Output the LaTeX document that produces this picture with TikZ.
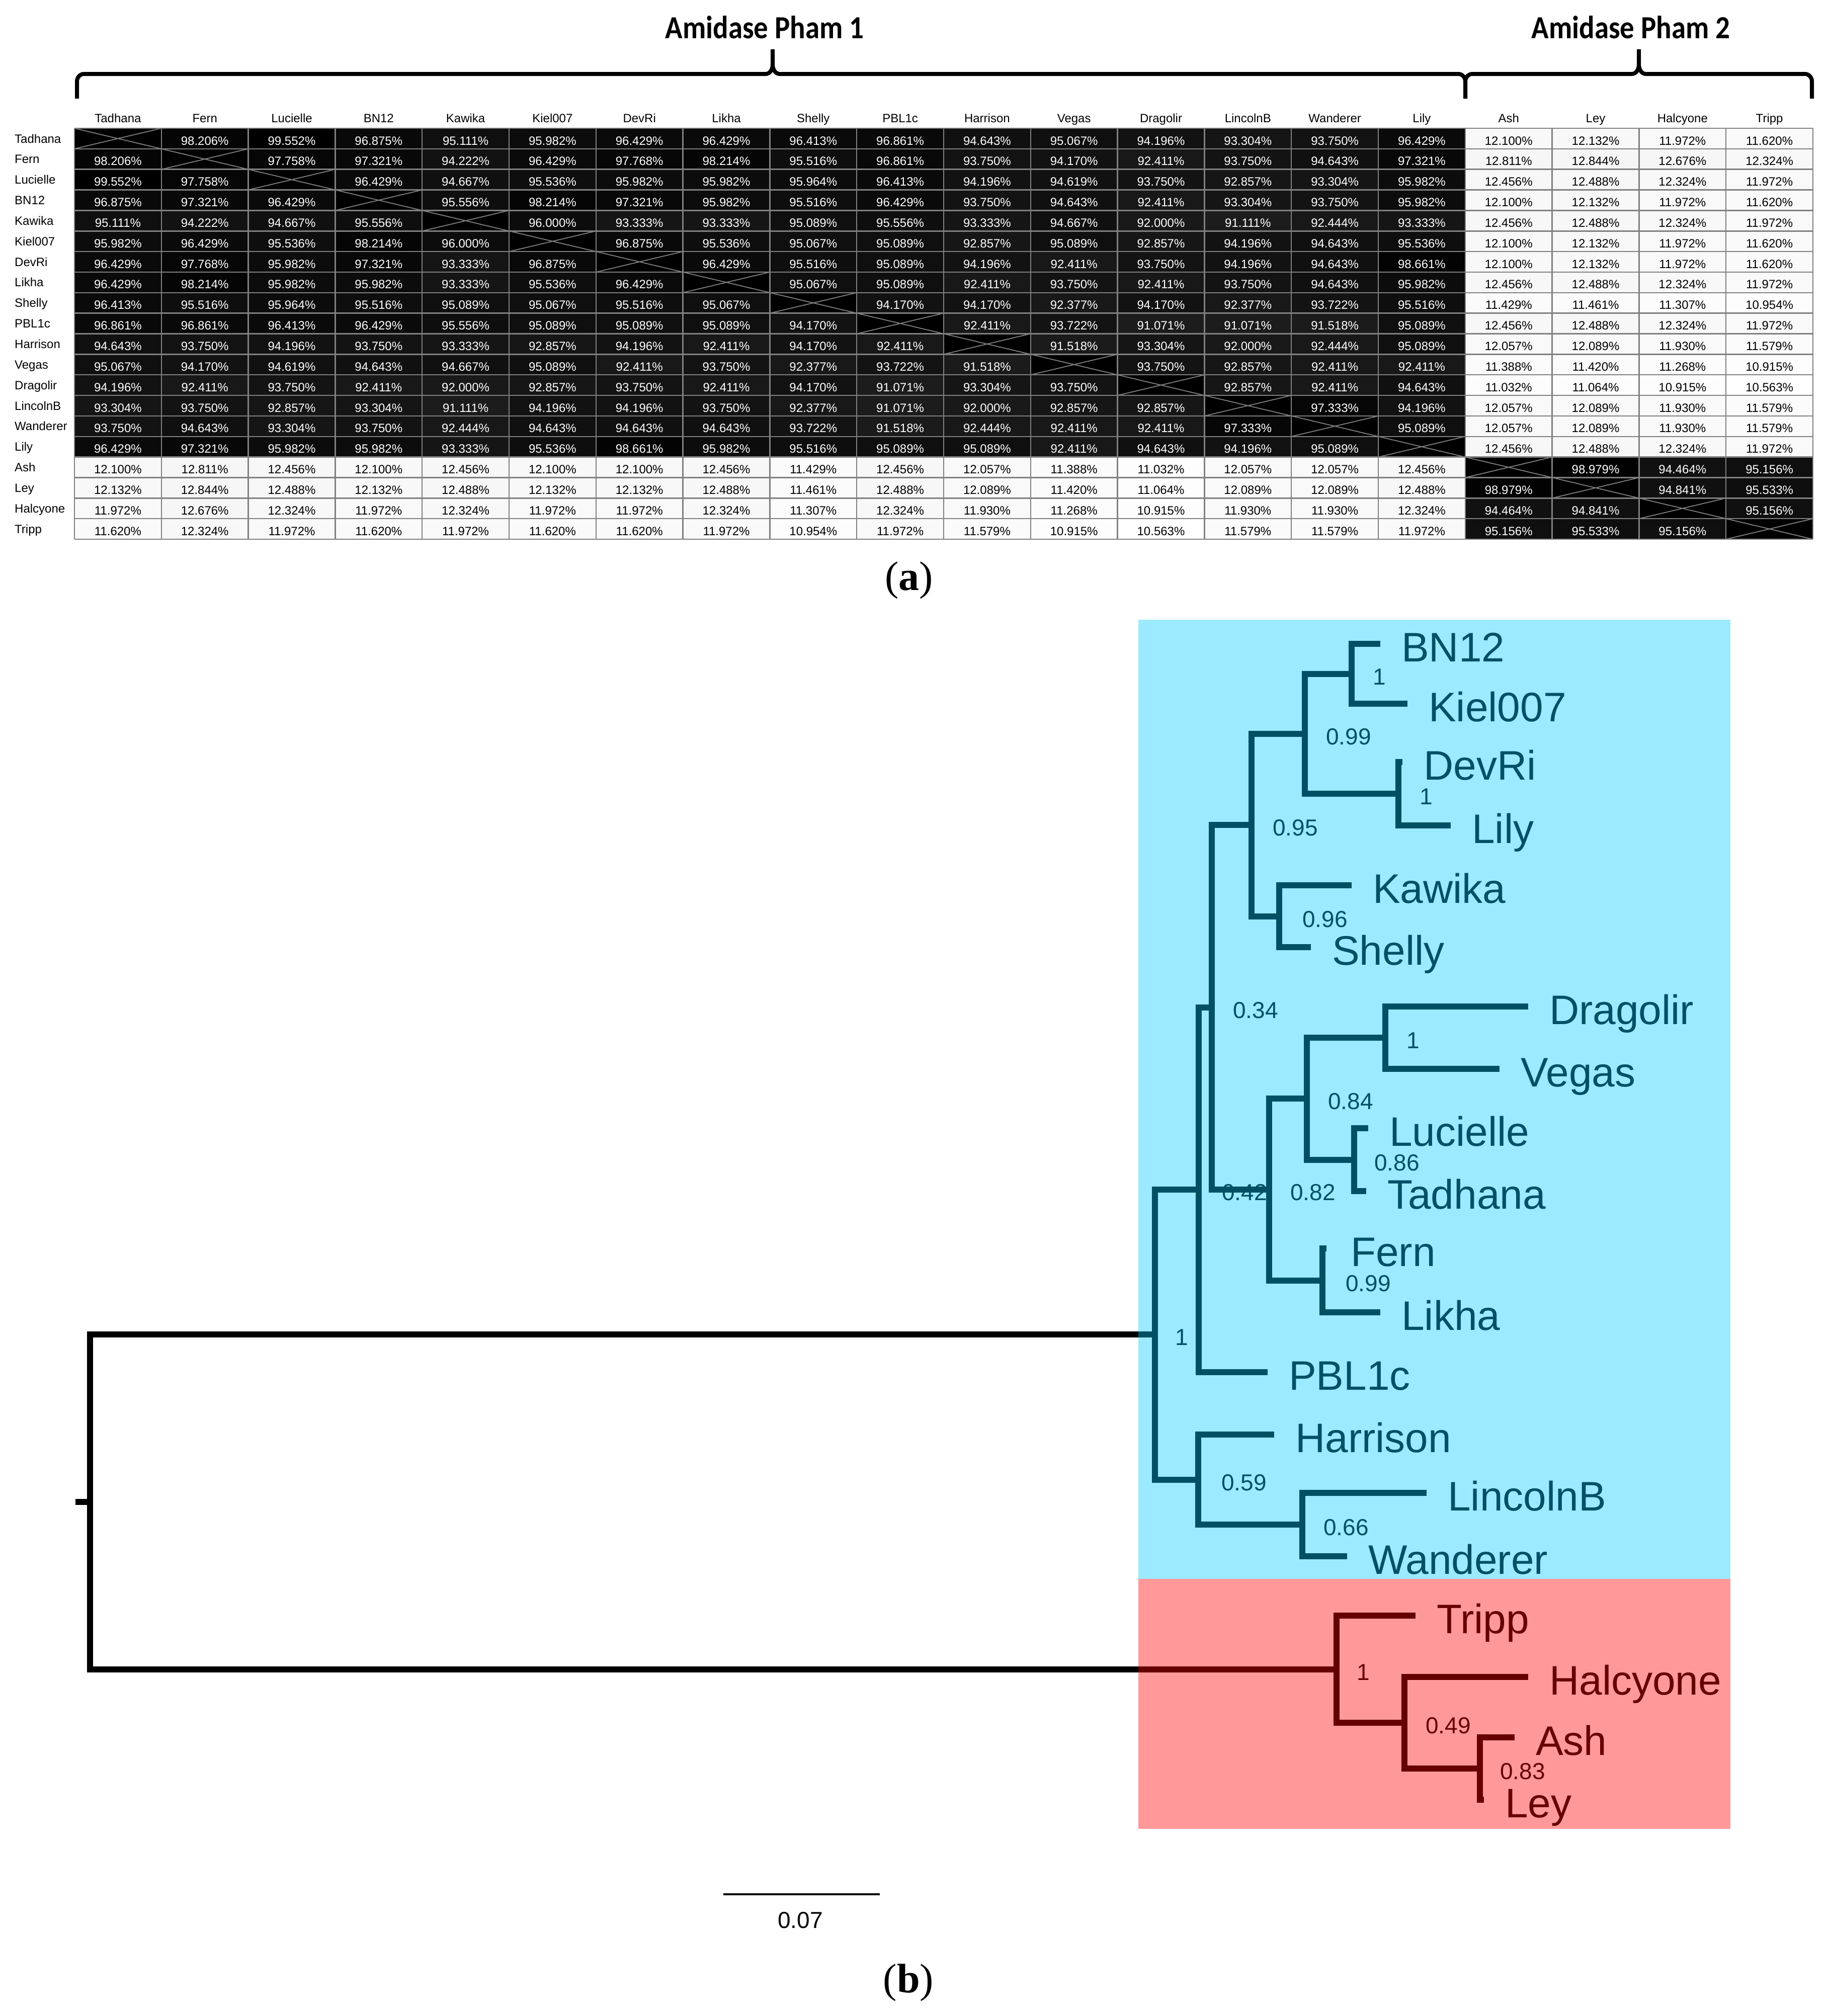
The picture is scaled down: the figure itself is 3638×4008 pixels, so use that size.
\documentclass[tikz,border=0pt]{standalone}
\usepackage{fontspec}
\usepackage{graphicx}
\setmainfont{Liberation Sans}
\newfontfamily\serifcap{Liberation Serif}
\newfontfamily\hdrfont{Carlito}
\newcommand{\fsz}[1]{\fontsize{#1}{#1}\selectfont}
\definecolor{cladeA}{RGB}{0,80,100}
\definecolor{cladeB}{RGB}{102,0,0}
\definecolor{bgA}{RGB}{155,234,255}
\definecolor{bgB}{RGB}{255,153,153}
\definecolor{gridc}{RGB}{128,128,128}
\begin{document}
\begin{tikzpicture}[x=1pt,y=-1pt,
  cell/.style={anchor=base,inner sep=0pt,font=\fsz{24}},
  hdr/.style={anchor=base,inner sep=0pt,font=\fsz{24}},
  rowlab/.style={anchor=base west,inner sep=0pt,font=\fsz{24}},
  gridline/.style={draw=gridc,line width=2.5pt},
  xline/.style={draw=gridc,line width=1.8pt},
  bracestyle/.style={line width=8pt,line cap=butt,line join=round},
  pham/.style={anchor=base,inner sep=0pt,font=\hdrfont\bfseries\fsz{64}},
  caption/.style={anchor=base,inner sep=0pt,font=\serifcap\fsz{82}},
  brA/.style={draw=cladeA,line width=12pt,line cap=butt,line join=miter},
  brB/.style={draw=cladeB,line width=12pt,line cap=butt,line join=miter},
  brR/.style={draw=black,line width=12pt,line cap=butt,line join=miter},
  leafA/.style={anchor=base west,inner sep=0pt,font=\fsz{82},text=cladeA},
  leafB/.style={anchor=base west,inner sep=0pt,font=\fsz{82},text=cladeB},
  bsA/.style={anchor=west,inner sep=0pt,font=\fsz{46},text=cladeA},
  bsB/.style={anchor=west,inner sep=0pt,font=\fsz{46},text=cladeB}]
\fill[white] (0,0) rectangle (3638,4008);
\useasboundingbox (0,0) rectangle (3638,4008);

% ---------- braces and titles ----------
\draw[bracestyle] (153,196) -- (153,162) to[out=90,in=180] (167,147) -- (1522,147) to[out=0,in=-90] (1536,128) -- (1536,98);
\draw[bracestyle] (1536,128) to[out=-90,in=180] (1550,147) -- (2899,147) to[out=0,in=90] (2913,162) -- (2913,196);
\draw[bracestyle] (2913,196) -- (2913,162) to[out=90,in=180] (2927,147) -- (3244,147) to[out=0,in=-90] (3258,128) -- (3258,98);
\draw[bracestyle] (3258,128) to[out=-90,in=180] (3272,147) -- (3588,147) to[out=0,in=90] (3602,162) -- (3602,196);
\node[pham] (pham1) at (1520,76) {\scalebox{0.89}[1]{Amidase Pham 1}};
\node[pham] (pham2) at (3242,76) {\scalebox{0.89}[1]{Amidase Pham 2}};

% ---------- table ----------
\foreach \v [count=\i from 0] in {
0,98.206,99.552,96.875,95.111,95.982,96.429,96.429,96.413,96.861,94.643,95.067,94.196,93.304,93.750,96.429,12.100,12.132,11.972,11.620,
98.206,0,97.758,97.321,94.222,96.429,97.768,98.214,95.516,96.861,93.750,94.170,92.411,93.750,94.643,97.321,12.811,12.844,12.676,12.324,
99.552,97.758,0,96.429,94.667,95.536,95.982,95.982,95.964,96.413,94.196,94.619,93.750,92.857,93.304,95.982,12.456,12.488,12.324,11.972,
96.875,97.321,96.429,0,95.556,98.214,97.321,95.982,95.516,96.429,93.750,94.643,92.411,93.304,93.750,95.982,12.100,12.132,11.972,11.620,
95.111,94.222,94.667,95.556,0,96.000,93.333,93.333,95.089,95.556,93.333,94.667,92.000,91.111,92.444,93.333,12.456,12.488,12.324,11.972,
95.982,96.429,95.536,98.214,96.000,0,96.875,95.536,95.067,95.089,92.857,95.089,92.857,94.196,94.643,95.536,12.100,12.132,11.972,11.620,
96.429,97.768,95.982,97.321,93.333,96.875,0,96.429,95.516,95.089,94.196,92.411,93.750,94.196,94.643,98.661,12.100,12.132,11.972,11.620,
96.429,98.214,95.982,95.982,93.333,95.536,96.429,0,95.067,95.089,92.411,93.750,92.411,93.750,94.643,95.982,12.456,12.488,12.324,11.972,
96.413,95.516,95.964,95.516,95.089,95.067,95.516,95.067,0,94.170,94.170,92.377,94.170,92.377,93.722,95.516,11.429,11.461,11.307,10.954,
96.861,96.861,96.413,96.429,95.556,95.089,95.089,95.089,94.170,0,92.411,93.722,91.071,91.071,91.518,95.089,12.456,12.488,12.324,11.972,
94.643,93.750,94.196,93.750,93.333,92.857,94.196,92.411,94.170,92.411,0,91.518,93.304,92.000,92.444,95.089,12.057,12.089,11.930,11.579,
95.067,94.170,94.619,94.643,94.667,95.089,92.411,93.750,92.377,93.722,91.518,0,93.750,92.857,92.411,92.411,11.388,11.420,11.268,10.915,
94.196,92.411,93.750,92.411,92.000,92.857,93.750,92.411,94.170,91.071,93.304,93.750,0,92.857,92.411,94.643,11.032,11.064,10.915,10.563,
93.304,93.750,92.857,93.304,91.111,94.196,94.196,93.750,92.377,91.071,92.000,92.857,92.857,0,97.333,94.196,12.057,12.089,11.930,11.579,
93.750,94.643,93.304,93.750,92.444,94.643,94.643,94.643,93.722,91.518,92.444,92.411,92.411,97.333,0,95.089,12.057,12.089,11.930,11.579,
96.429,97.321,95.982,95.982,93.333,95.536,98.661,95.982,95.516,95.089,95.089,92.411,94.643,94.196,95.089,0,12.456,12.488,12.324,11.972,
12.100,12.811,12.456,12.100,12.456,12.100,12.100,12.456,11.429,12.456,12.057,11.388,11.032,12.057,12.057,12.456,0,98.979,94.464,95.156,
12.132,12.844,12.488,12.132,12.488,12.132,12.132,12.488,11.461,12.488,12.089,11.420,11.064,12.089,12.089,12.488,98.979,0,94.841,95.533,
11.972,12.676,12.324,11.972,12.324,11.972,11.972,12.324,11.307,12.324,11.930,11.268,10.915,11.930,11.930,12.324,94.464,94.841,0,95.156,
11.620,12.324,11.972,11.620,11.972,11.620,11.620,11.972,10.954,11.972,11.579,10.915,10.563,11.579,11.579,11.972,95.156,95.533,95.156,0
}{
  \pgfmathtruncatemacro\r{floor(\i/20)}
  \pgfmathtruncatemacro\c{mod(\i,20)}
  \pgfmathsetmacro\cx{148+\c*172.8}
  \pgfmathsetmacro\cy{255+\r*40.85}
  \ifdim\v pt<1pt
    \fill[black] (\cx,\cy) rectangle ++(172.8,40.85);
    \draw[xline] (\cx,\cy) -- ++(172.8,40.85) (\cx,\cy+40.85) -- ++(172.8,-40.85);
  \else
    \ifdim\v pt>50pt
      \pgfmathsetmacro\k{100-(99.6-\v)*1.3}
      \fill[black!\k] (\cx,\cy) rectangle ++(172.8,40.85);
      \node[cell,text=white] (c-\r-\c) at (\cx+86.4,\cy+33) {\v\%};
    \else
      \pgfmathsetmacro\k{max(0,(\v-10.5)*1.6)}
      \fill[black!\k] (\cx,\cy) rectangle ++(172.8,40.85);
      \node[cell,text=black] (c-\r-\c) at (\cx+86.4,\cy+33) {\v\%};
    \fi
  \fi
}
\foreach \i in {0,...,20} \draw[gridline] (148,255+\i*40.85) -- (3604,255+\i*40.85);
\foreach \j in {0,...,20} \draw[gridline] (148+\j*172.8,255) -- (148+\j*172.8,1072);
\foreach \n [count=\c from 0] in {Tadhana,Fern,Lucielle,BN12,Kawika,Kiel007,DevRi,Likha,Shelly,PBL1c,Harrison,Vegas,Dragolir,LincolnB,Wanderer,Lily,Ash,Ley,Halcyone,Tripp} {
  \node[hdr] (h-\c) at (148+\c*172.8+86.4,243) {\n};
  \node[rowlab] (r-\c) at (29,255+\c*40.85+29) {\n};
}
\node[caption] (capa) at (1807,1173) {(\textbf{a})};

% ---------- tree backgrounds ----------
\fill[bgA] (2263,1232) rectangle (3440,3139);
\fill[bgB] (2263,3139) rectangle (3440,3636);

% ---------- tree coordinates ----------
\coordinate (tBN12) at (2744,1280);
\coordinate (tKiel) at (2798,1399);
\coordinate (tDevRi) at (2788,1515);
\coordinate (tLily) at (2884,1641);
\coordinate (tKawika) at (2687,1760);
\coordinate (tShelly) at (2606,1883);
\coordinate (tDrag) at (3038,2001);
\coordinate (tVegas) at (2981,2125);
\coordinate (tLuc) at (2720,2243);
\coordinate (tTad) at (2716,2368);
\coordinate (tFern) at (2637,2482);
\coordinate (tLikha) at (2744,2609);
\coordinate (tPBL) at (2520,2728);
\coordinate (tHarr) at (2533,2852);
\coordinate (tLinc) at (2836,2968);
\coordinate (tWand) at (2678,3094);
\coordinate (tTripp) at (2814,3212);
\coordinate (tHalc) at (3038,3334);
\coordinate (tAsh) at (3011,3454);
\coordinate (tLey) at (2950,3578);
\coordinate (nBK) at (2687,1339.5);
\coordinate (nDL) at (2780,1578);
\coordinate (nA) at (2594,1459);
\coordinate (nKS) at (2543,1821.5);
\coordinate (nB) at (2488,1640);
\coordinate (nDV) at (2754,2063);
\coordinate (nLT) at (2692,2305.5);
\coordinate (nC) at (2598,2184);
\coordinate (nFL) at (2629,2545.5);
\coordinate (nD) at (2523,2365);
\coordinate (nF) at (2409,2002.5);
\coordinate (nE) at (2383,2365);
\coordinate (nLW) at (2589,3031);
\coordinate (nJ) at (2382,2941.5);
\coordinate (nR1) at (2296,2653);
\coordinate (nAL) at (2942,3516);
\coordinate (nL) at (2792,3425);
\coordinate (nK) at (2657,3318.5);
\coordinate (root) at (179,2985.75);
\coordinate (rootstub) at (150,2985.75);
\coordinate (eTop) at (2263,2653);
\coordinate (eBot) at (2263,3318.5);

% ---------- branches ----------
\draw[brA] (tBN12) -| (nBK) |- (tKiel);
\draw[brA] (tDevRi) -| (nDL) |- (tLily);
\draw[brA] (nBK) -| (nA) |- (nDL);
\draw[brA] (tKawika) -| (nKS) |- (tShelly);
\draw[brA] (nA) -| (nB) |- (nKS);
\draw[brA] (tDrag) -| (nDV) |- (tVegas);
\draw[brA] (tLuc) -| (nLT) |- (tTad);
\draw[brA] (nDV) -| (nC) |- (nLT);
\draw[brA] (tFern) -| (nFL) |- (tLikha);
\draw[brA] (nC) -| (nD) |- (nFL);
\draw[brA] (nB) -| (nF) |- (nD);
\draw[brA] (nF) -| (nE) |- (tPBL);
\draw[brA] (tLinc) -| (nLW) |- (tWand);
\draw[brA] (tHarr) -| (nJ) |- (nLW);
\draw[brA] (nE) -| (nR1) |- (nJ);
\draw[brA] (eTop) -- (nR1);
\draw[brB] (tAsh) -| (nAL) |- (tLey);
\draw[brB] (tHalc) -| (nL) |- (nAL);
\draw[brB] (tTripp) -| (nK) |- (nL);
\draw[brB] (eBot) -- (nK);
\draw[brR] (eTop) -| (root) |- (eBot);
\draw[brR] (rootstub) -- (root);

% ---------- leaf labels ----------
\node[leafA] (lBN12) at ([xshift=42pt,yshift=-35pt]tBN12) {BN12};
\node[leafA] (lKiel) at ([xshift=42pt,yshift=-35pt]tKiel) {Kiel007};
\node[leafA] (lDevRi) at ([xshift=42pt,yshift=-35pt]tDevRi) {DevRi};
\node[leafA] (lLily) at ([xshift=42pt,yshift=-35pt]tLily) {Lily};
\node[leafA] (lKawika) at ([xshift=42pt,yshift=-35pt]tKawika) {Kawika};
\node[leafA] (lShelly) at ([xshift=42pt,yshift=-35pt]tShelly) {Shelly};
\node[leafA] (lDrag) at ([xshift=42pt,yshift=-35pt]tDrag) {Dragolir};
\node[leafA] (lVegas) at ([xshift=42pt,yshift=-35pt]tVegas) {Vegas};
\node[leafA] (lLuc) at ([xshift=42pt,yshift=-35pt]tLuc) {Lucielle};
\node[leafA] (lTad) at ([xshift=42pt,yshift=-35pt]tTad) {Tadhana};
\node[leafA] (lFern) at ([xshift=48pt,yshift=-35pt]tFern) {Fern};
\node[leafA] (lLikha) at ([xshift=42pt,yshift=-35pt]tLikha) {Likha};
\node[leafA] (lPBL) at ([xshift=42pt,yshift=-35pt]tPBL) {PBL1c};
\node[leafA] (lHarr) at ([xshift=42pt,yshift=-35pt]tHarr) {Harrison};
\node[leafA] (lLinc) at ([xshift=42pt,yshift=-35pt]tLinc) {LincolnB};
\node[leafA] (lWand) at ([xshift=42pt,yshift=-35pt]tWand) {Wanderer};
\node[leafB] (lTripp) at ([xshift=42pt,yshift=-35pt]tTripp) {Tripp};
\node[leafB] (lHalc) at ([xshift=42pt,yshift=-35pt]tHalc) {Halcyone};
\node[leafB] (lAsh) at ([xshift=42pt,yshift=-35pt]tAsh) {Ash};
\node[leafB] (lLey) at ([xshift=42pt,yshift=-35pt]tLey) {Ley};

% ---------- support values ----------
\node[bsA] (bBK) at ([xshift=42pt,yshift=-6pt]nBK) {1};
\node[bsA] (bDL) at ([xshift=42pt,yshift=-6pt]nDL) {1};
\node[bsA] (bA) at ([xshift=42pt,yshift=-6pt]nA) {0.99};
\node[bsA] (bKS) at ([xshift=46pt,yshift=-6pt]nKS) {0.96};
\node[bsA] (bB) at ([xshift=42pt,yshift=-6pt]nB) {0.95};
\node[bsA] (bF) at ([xshift=42pt,yshift=-6pt]nF) {0.34};
\node[bsA] (bDV) at ([xshift=42pt,yshift=-6pt]nDV) {1};
\node[bsA] (bC) at ([xshift=42pt,yshift=-6pt]nC) {0.84};
\node[bsA] (bLT) at ([xshift=40pt,yshift=-6pt]nLT) {0.86};
\node[bsA] (bD) at ([xshift=42pt,yshift=-6pt]nD) {0.82};
\node[bsA] (bE) at ([xshift=46pt,yshift=-6pt]nE) {0.42};
\node[bsA] (bFL) at ([xshift=46pt,yshift=-6pt]nFL) {0.99};
\node[bsA] (bR1) at ([xshift=40pt,yshift=-6pt]nR1) {1};
\node[bsA] (bJ) at ([xshift=46pt,yshift=-6pt]nJ) {0.59};
\node[bsA] (bLW) at ([xshift=42pt,yshift=-6pt]nLW) {0.66};
\node[bsB] (bK) at ([xshift=40pt,yshift=-6pt]nK) {1};
\node[bsB] (bL) at ([xshift=42pt,yshift=-6pt]nL) {0.49};
\node[bsB] (bAL) at ([xshift=40pt,yshift=-6pt]nAL) {0.83};

% ---------- scale bar and caption ----------
\coordinate (sb1) at (1438,3766);
\coordinate (sb2) at (1749,3766);
\draw[line width=4pt] (sb1) -- (sb2);
\node[inner sep=0pt,font=\fsz{46}] (sblab) at (1591,3818) {0.07};
\node[caption] (capb) at (1806,3961) {(\textbf{b})};
\end{tikzpicture}
\end{document}
